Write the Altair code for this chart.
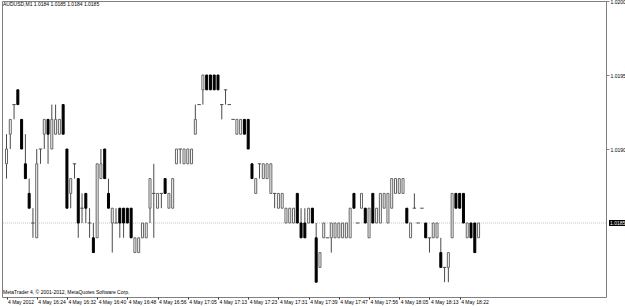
import json
import numpy as np
import pandas as pd
import altair as alt

# ---------------- data ----------------
symbol_line = "AUDUSD,M1  1.0184 1.0185 1.0184 1.0185"
copyright_line = "MetaTrader 4, \u00a9 2001-2012, MetaQuotes Software Corp."
time_labels = ["4 May 2012", "4 May 16:24", "4 May 16:32", "4 May 16:40", "4 May 16:48",
               "4 May 16:56", "4 May 17:05", "4 May 17:13", "4 May 17:23", "4 May 17:31",
               "4 May 17:39", "4 May 17:47", "4 May 17:56", "4 May 18:05", "4 May 18:13",
               "4 May 18:22"]
price_ticks = [1.0190, 1.0195, 1.0200]
current_price = 1.0185
current_label = "1.0185"

opens = [1.0189, 1.0191, 1.0193, 1.0194, 1.0192, 1.0189, 1.0187, 1.0185, 1.0184, 1.0190,
         1.0191, 1.0192, 1.0190, 1.0191, 1.0191, 1.0193, 1.0190, 1.0187, 1.0189, 1.0188,
         1.0186, 1.0187, 1.0185, 1.0184, 1.0184, 1.0188, 1.0190, 1.0187, 1.0185, 1.0185,
         1.0186, 1.0186, 1.0186, 1.0186, 1.0183, 1.0183, 1.0184, 1.0184, 1.0186, 1.0187,
         1.0186, 1.0187, 1.0188, 1.0186, 1.0186, 1.0189, 1.0190, 1.0189, 1.0189, 1.0189,
         1.0191, 1.0193, 1.0194, 1.0195, 1.0195, 1.0195, 1.0195, 1.0193, 1.0194, 1.0193,
         1.0192, 1.0191, 1.0191, 1.0192, 1.0192, 1.0189, 1.0187, 1.0189, 1.0188, 1.0188,
         1.0187, 1.0187, 1.0186, 1.0186, 1.0185, 1.0185, 1.0185, 1.0187, 1.0185, 1.0185,
         1.0185, 1.0186, 1.0184, 1.0182, 1.0184, 1.0184, 1.0184, 1.0184, 1.0184, 1.0184,
         1.0184, 1.0184, 1.0187, 1.0185, 1.0186, 1.0186, 1.0184, 1.0187, 1.0185, 1.0185,
         1.0186, 1.0185, 1.0186, 1.0187, 1.0187, 1.0187, 1.0186, 1.0184, 1.0186, 1.0185,
         1.0186, 1.0185, 1.0184, 1.0184, 1.0184, 1.0183, 1.0182, 1.0182, 1.0184, 1.0187,
         1.0187, 1.0187, 1.0184, 1.0185, 1.0185, 1.0184]
highs = [1.0191, 1.0192, 1.0193, 1.0194, 1.0192, 1.0191, 1.0188, 1.0186, 1.0190, 1.0190,
         1.0192, 1.0192, 1.0193, 1.0193, 1.0192, 1.0193, 1.0190, 1.0188, 1.0189, 1.0188,
         1.0187, 1.0187, 1.0186, 1.0185, 1.0189, 1.0190, 1.0190, 1.0188, 1.0186, 1.0186,
         1.0186, 1.0186, 1.0186, 1.0186, 1.0184, 1.0184, 1.0185, 1.0185, 1.0188, 1.0189,
         1.0187, 1.0187, 1.0188, 1.0187, 1.0188, 1.0190, 1.0190, 1.0190, 1.0190, 1.0190,
         1.0193, 1.0193, 1.0195, 1.0195, 1.0195, 1.0195, 1.0195, 1.0193, 1.0194, 1.0193,
         1.0192, 1.0192, 1.0192, 1.0192, 1.0192, 1.0189, 1.0188, 1.0189, 1.0189, 1.0189,
         1.0189, 1.0187, 1.0187, 1.0187, 1.0186, 1.0186, 1.0186, 1.0187, 1.0186, 1.0186,
         1.0186, 1.0186, 1.0185, 1.0183, 1.0185, 1.0184, 1.0185, 1.0185, 1.0185, 1.0185,
         1.0185, 1.0186, 1.0187, 1.0185, 1.0187, 1.0186, 1.0186, 1.0187, 1.0186, 1.0187,
         1.0187, 1.0187, 1.0188, 1.0188, 1.0188, 1.0188, 1.0186, 1.0185, 1.0187, 1.0185,
         1.0186, 1.0185, 1.0184, 1.0185, 1.0185, 1.0184, 1.0182, 1.0183, 1.0187, 1.0187,
         1.0187, 1.0187, 1.0185, 1.0185, 1.0185, 1.0185]
lows = [1.0188, 1.0190, 1.0192, 1.0193, 1.0190, 1.0188, 1.0186, 1.0184, 1.0184, 1.0189,
        1.0190, 1.0189, 1.0190, 1.0191, 1.0191, 1.0191, 1.0186, 1.0186, 1.0188, 1.0184,
        1.0185, 1.0185, 1.0184, 1.0183, 1.0184, 1.0188, 1.0188, 1.0186, 1.0183, 1.0185,
        1.0184, 1.0184, 1.0185, 1.0184, 1.0183, 1.0183, 1.0184, 1.0184, 1.0185, 1.0184,
        1.0186, 1.0186, 1.0187, 1.0186, 1.0186, 1.0189, 1.0189, 1.0189, 1.0189, 1.0189,
        1.0191, 1.0193, 1.0193, 1.0194, 1.0194, 1.0194, 1.0194, 1.0192, 1.0193, 1.0193,
        1.0192, 1.0191, 1.0191, 1.0191, 1.0190, 1.0188, 1.0187, 1.0188, 1.0188, 1.0188,
        1.0187, 1.0186, 1.0186, 1.0186, 1.0185, 1.0185, 1.0185, 1.0185, 1.0184, 1.0184,
        1.0185, 1.0185, 1.0181, 1.0182, 1.0184, 1.0184, 1.0183, 1.0184, 1.0184, 1.0184,
        1.0184, 1.0184, 1.0186, 1.0185, 1.0186, 1.0185, 1.0184, 1.0185, 1.0185, 1.0185,
        1.0186, 1.0185, 1.0186, 1.0187, 1.0187, 1.0187, 1.0185, 1.0184, 1.0186, 1.0185,
        1.0186, 1.0184, 1.0183, 1.0184, 1.0184, 1.0182, 1.0181, 1.0181, 1.0184, 1.0186,
        1.0186, 1.0185, 1.0184, 1.0184, 1.0183, 1.0184]
closes = [1.0190, 1.0192, 1.0193, 1.0193, 1.0190, 1.0188, 1.0186, 1.0185, 1.0189, 1.0190,
          1.0192, 1.0191, 1.0192, 1.0192, 1.0192, 1.0191, 1.0186, 1.0188, 1.0189, 1.0185,
          1.0186, 1.0186, 1.0185, 1.0183, 1.0189, 1.0189, 1.0188, 1.0186, 1.0186, 1.0185,
          1.0185, 1.0185, 1.0185, 1.0184, 1.0184, 1.0184, 1.0185, 1.0185, 1.0188, 1.0187,
          1.0187, 1.0187, 1.0187, 1.0187, 1.0188, 1.0190, 1.0190, 1.0190, 1.0190, 1.0190,
          1.0192, 1.0193, 1.0195, 1.0194, 1.0194, 1.0194, 1.0194, 1.0193, 1.0194, 1.0193,
          1.0192, 1.0192, 1.0192, 1.0191, 1.0190, 1.0188, 1.0188, 1.0189, 1.0189, 1.0189,
          1.0189, 1.0187, 1.0187, 1.0187, 1.0186, 1.0186, 1.0186, 1.0185, 1.0184, 1.0184,
          1.0186, 1.0185, 1.0181, 1.0183, 1.0185, 1.0184, 1.0185, 1.0185, 1.0185, 1.0185,
          1.0185, 1.0186, 1.0186, 1.0185, 1.0187, 1.0185, 1.0186, 1.0185, 1.0186, 1.0187,
          1.0187, 1.0187, 1.0188, 1.0188, 1.0188, 1.0188, 1.0185, 1.0185, 1.0186, 1.0185,
          1.0186, 1.0184, 1.0184, 1.0185, 1.0185, 1.0182, 1.0182, 1.0183, 1.0187, 1.0186,
          1.0186, 1.0185, 1.0185, 1.0184, 1.0183, 1.0185]

# ---------------- table ----------------
n = len(opens)
df = pd.DataFrame({"bar": list(range(n)), "open": opens, "high": highs,
                   "low": lows, "close": closes})
df["body_lo"] = df[["open", "close"]].min(axis=1)
df["body_hi"] = df[["open", "close"]].max(axis=1)
df["kind"] = np.where(df["close"] > df["open"], "bull",
                      np.where(df["close"] < df["open"], "bear", "doji"))

W, H = 604, 296
FONT = "Liberation Sans"
FS = 5
GRAY = "#808080"
WICK = "#4a4a4a"

xs = alt.Scale(domain=[0.13, 157.42], nice=False, zero=False)
ys = alt.Scale(domain=[1.0180, 1.0200], nice=False, zero=False)

label_expr = json.dumps(time_labels) + "[round(datum.value / 8)]"
x_axis = alt.Axis(values=list(range(0, 8 * len(time_labels), 8)), labelExpr=label_expr,
                  orient="bottom", grid=False, domain=False, ticks=True, tickSize=2,
                  tickColor="#303030", labelAlign="left", labelBaseline="top",
                  labelOffset=1, labelPadding=0.5, labelOverlap=False, labelFlush=False,
                  labelFont=FONT, labelFontSize=FS, labelColor="black", title=None)
y_axis = alt.Axis(values=price_ticks, format=".4f", orient="right", grid=False,
                  domain=False, ticks=True, tickSize=3, tickColor=GRAY, labelPadding=1,
                  labelFont=FONT, labelFontSize=FS, labelColor="black",
                  labelOverlap=False, labelFlush=False, title=None)


def X(field):
    return alt.X(f"{field}:Q", scale=xs, axis=x_axis, title=None)


def Y(field):
    return alt.Y(f"{field}:Q", scale=ys, axis=y_axis, title=None)


price_df = pd.DataFrame({"p": [current_price], "t": [current_label]})

price_line = alt.Chart(price_df).mark_rule(color="#c4c4c4", strokeDash=[1, 1],
                                           strokeWidth=1).encode(y=Y("p"))

wicks = alt.Chart(df).mark_rule(color=WICK, strokeWidth=1, clip=True).encode(
    x=X("bar"), y=Y("low"), y2="high:Q")

bodies = alt.Chart(df).transform_filter("datum.kind != 'doji'").mark_bar(
    size=2, strokeWidth=1, clip=True).encode(
    x=X("bar"), y=Y("body_lo"), y2="body_hi:Q",
    fill=alt.Fill("kind:N", scale=alt.Scale(domain=["bull", "bear"],
                                            range=["#ffffff", "#000000"]), legend=None),
    stroke=alt.Stroke("kind:N", scale=alt.Scale(domain=["bull", "bear"],
                                                range=["#666666", "#000000"]), legend=None))

dojis = alt.Chart(df).transform_filter("datum.kind == 'doji'").transform_calculate(
    x0="datum.bar - 0.45", x1="datum.bar + 0.45").mark_rule(
    color=WICK, strokeWidth=1, clip=True).encode(x=X("x0"), x2="x1:Q", y=Y("open"))

tag_bg = alt.Chart(price_df).mark_rule(color="black", strokeWidth=6, strokeCap="butt").encode(
    y=Y("p"), x=alt.value(W + 3), x2=alt.value(W + 20))
tag_txt = alt.Chart(price_df).mark_text(color="white", align="left", baseline="middle",
                                        font=FONT, fontSize=FS).encode(
    y=Y("p"), x=alt.value(W + 4), text="t:N")

header = alt.Chart(pd.DataFrame({"t": [symbol_line]})).mark_text(
    align="left", baseline="middle", font=FONT, fontSize=FS, color="black").encode(
    x=alt.value(1), y=alt.value(3), text="t:N")
footer = alt.Chart(pd.DataFrame({"t": [copyright_line]})).mark_text(
    align="left", baseline="middle", font=FONT, fontSize=FS, color="black").encode(
    x=alt.value(1), y=alt.value(290.5), text="t:N")

chart = alt.layer(price_line, wicks, bodies, dojis, tag_bg, tag_txt, header, footer).properties(
    width=W, height=H,
    autosize=alt.AutoSizeParams(type="none"),
    padding={"left": 2, "top": 1, "right": 19, "bottom": 9},
    background="white",
).configure_view(stroke=GRAY, strokeWidth=1)

chart.save("out.html", embed_options={"renderer": "svg", "actions": False})
